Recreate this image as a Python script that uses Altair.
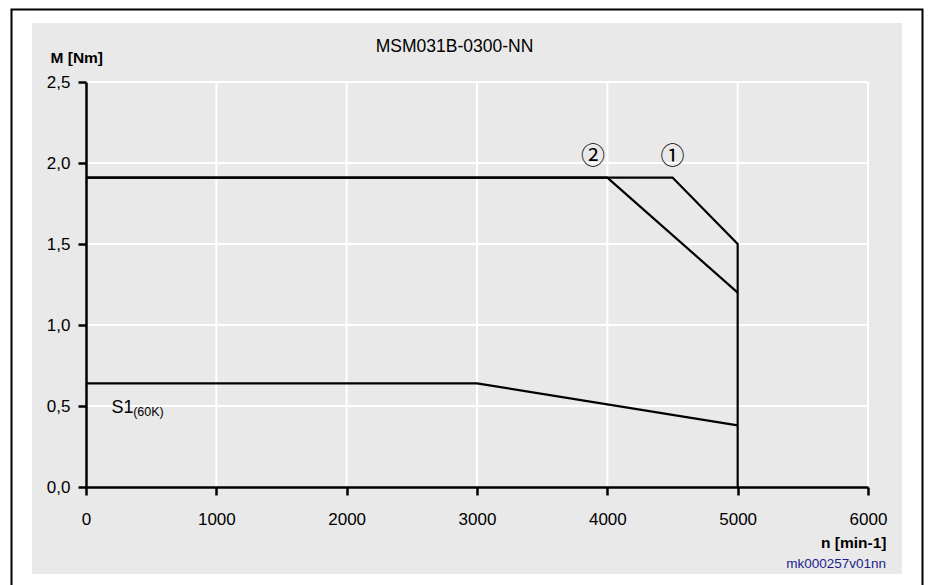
import altair as alt
import pandas as pd

# ---- data ----
curve1_n = [0, 4500, 5000, 5000]
curve1_M = [1.91, 1.91, 1.50, 0.0]
curve2_n = [0, 4000, 5000]
curve2_M = [1.91, 1.91, 1.20]
s1_n = [0, 3000, 5000]
s1_M = [0.64, 0.64, 0.38]

x_ticks = [0, 1000, 2000, 3000, 4000, 5000, 6000]
y_ticks = [0.0, 0.5, 1.0, 1.5, 2.0, 2.5]

label_text = ["\u2460", "\u2461"]
label_n = [4500, 3890]
label_M = [2.04, 2.04]

s1_label = "S1"
s1_sub = "(60K)"
s1_label_pos = (195, 0.459)
s1_sub_pos = (362, 0.437)

chart_title = "MSM031B-0300-NN"
doc_code = "mk000257v01nn"
x_title = "n [min-1]"
y_title = "M [Nm]"

W, H = 782, 405

rows = []
for name, ns, ms in [("1", curve1_n, curve1_M), ("2", curve2_n, curve2_M), ("S1", s1_n, s1_M)]:
    for i, (n, m) in enumerate(zip(ns, ms)):
        rows.append({"series": name, "n": n, "M": m, "i": i})
df = pd.DataFrame(rows)

xs = alt.Scale(domain=[0, 6000], nice=False, zero=False)
ys = alt.Scale(domain=[0, 2.5], nice=False, zero=False)

FONT = "Liberation Sans"

# decorative panel and frame (layout only)
panel = alt.Chart(pd.DataFrame({"k": [0]})).mark_rect(color="#e9e9e9").encode(
    x=alt.value(-54), x2=alt.value(816), y=alt.value(-59), y2=alt.value(492)
)
frame = alt.Chart(pd.DataFrame({"k": [0]})).mark_rect(
    filled=False, stroke="black", strokeWidth=2
).encode(
    x=alt.value(-74.5), x2=alt.value(836.5), y=alt.value(-72.5), y2=alt.value(540)
)

vgrid = alt.Chart(pd.DataFrame({"n": x_ticks[1:]})).mark_rule(color="white", strokeWidth=2).encode(
    x=alt.X("n:Q", scale=xs), y=alt.datum(0, scale=ys), y2=alt.datum(2.5)
)
hgrid = alt.Chart(pd.DataFrame({"M": y_ticks[1:]})).mark_rule(color="white", strokeWidth=2).encode(
    y=alt.Y("M:Q", scale=ys), x=alt.datum(0, scale=xs), x2=alt.datum(6000)
)

lines = alt.Chart(df).mark_line(color="black", strokeWidth=2.2, strokeJoin="miter", clip=False).encode(
    x=alt.X(
        "n:Q", scale=xs,
        axis=alt.Axis(
            values=x_ticks, format="d", grid=False, title=x_title, labelFlush=False,
            labelFontSize=17, labelFont=FONT, labelColor="black", labelPadding=16,
            tickColor="black", tickSize=8, tickWidth=2.5,
            domainColor="black", domainWidth=2.5,
            titleFont=FONT, titleFontSize=15.5, titleFontWeight="bold", titleColor="black",
            titleAlign="right", titleAnchor="start", titleX=800, titleY=55, titleBaseline="middle",
            zindex=2,
        ),
    ),
    y=alt.Y(
        "M:Q", scale=ys,
        axis=alt.Axis(
            values=y_ticks, grid=False, title=y_title, labelFlush=False,
            labelExpr="replace(format(datum.value, '.1f'), '.', ',')",
            labelFontSize=17, labelFont=FONT, labelColor="black", labelPadding=8,
            tickColor="black", tickSize=8, tickWidth=2.5,
            domainColor="black", domainWidth=2.5,
            titleFont=FONT, titleFontSize=15.5, titleFontWeight="bold", titleColor="black",
            titleAngle=0, titleAlign="left", titleAnchor="start", titleX=-36, titleY=-25,
            titleBaseline="middle",
            zindex=2,
        ),
    ),
    detail="series:N",
    order="i:Q",
)

circ = alt.Chart(pd.DataFrame({"t": label_text, "n": label_n, "M": label_M})).mark_text(
    font="Noto Sans CJK JP", fontSize=24, color="black", align="center", baseline="middle"
).encode(x=alt.X("n:Q", scale=xs), y=alt.Y("M:Q", scale=ys), text="t:N")

s1a = alt.Chart(pd.DataFrame({"t": [s1_label], "n": [s1_label_pos[0]], "M": [s1_label_pos[1]]})).mark_text(
    font=FONT, fontSize=18, color="black", align="left", baseline="alphabetic"
).encode(x=alt.X("n:Q", scale=xs), y=alt.Y("M:Q", scale=ys), text="t:N")
s1b = alt.Chart(pd.DataFrame({"t": [s1_sub], "n": [s1_sub_pos[0]], "M": [s1_sub_pos[1]]})).mark_text(
    font=FONT, fontSize=12.5, color="black", align="left", baseline="alphabetic"
).encode(x=alt.X("n:Q", scale=xs), y=alt.Y("M:Q", scale=ys), text="t:N")

title_txt = alt.Chart(pd.DataFrame({"t": [chart_title]})).mark_text(
    font=FONT, fontSize=17.5, color="black", align="center", baseline="middle"
).encode(x=alt.value(368.5), y=alt.value(-35), text="t:N")

code_txt = alt.Chart(pd.DataFrame({"t": [doc_code]})).mark_text(
    font=FONT, fontSize=13.5, color="#1c1c8c", align="right", baseline="alphabetic"
).encode(x=alt.value(800), y=alt.value(486), text="t:N")

chart = alt.layer(
    panel, frame, vgrid, hgrid, lines, circ, s1a, s1b, title_txt, code_txt
).properties(
    width=W, height=H,
    padding={"left": 78, "top": 74, "right": 57, "bottom": 98},
    autosize=alt.AutoSizeParams(type="none"),
    background="white",
).configure_view(stroke=None)

chart.save("out.html", embed_options={"renderer": "svg", "actions": False})
